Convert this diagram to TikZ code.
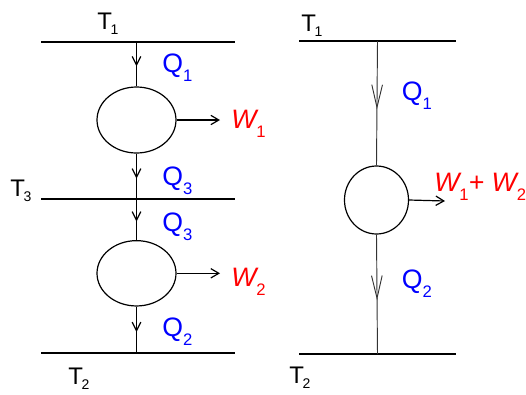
\documentclass[tikz,border=0pt]{standalone}
\usepackage{fontspec}
\setmainfont{Liberation Sans}
\usetikzlibrary{shapes.geometric,arrows.meta,decorations.markings}
\definecolor{heatblue}{HTML}{0000FF}
\definecolor{workred}{HTML}{FF0000}
\newcommand{\lowsub}[2][7pt]{\raisebox{-#1}{\fontsize{12.5}{14}\selectfont\upshape #2}}
\newcommand{\tsub}[1]{\kern-1pt\raisebox{-4pt}{\fontsize{10.5}{12}\selectfont #1}}

\tikzset{
  label txt/.style={font=\fontsize{18}{20}\selectfont,inner sep=0pt,anchor=base west},
  heat txt/.style={label txt,text=heatblue,font=\fontsize{20}{24}\selectfont},
  work txt/.style={label txt,text=workred,font=\fontsize{20}{24}\selectfont\itshape},
  reservoir/.style={line width=0.9pt},
  engine/.style={draw,ellipse,inner sep=0pt,line width=0.9pt},
  heat flow/.style={line width=0.9pt,postaction={decorate},
    decoration={markings,mark=at position 0.55 with {\arrow{Straight Barb[length=6.5pt,width=6.5pt]}}}},
  long flow/.style={line width=0.7pt,draw=black!80,postaction={decorate},
    decoration={markings,mark=at position 0.55 with {\arrow{Straight Barb[length=17pt,width=8pt]}}}},
  work flow/.style={line width=0.9pt,-{Straight Barb[length=6pt,width=7pt]}}
}

\begin{document}
\begin{tikzpicture}[x=0.75pt,y=-0.75pt]
\useasboundingbox (0,0) rectangle (526,394);

% left: two engines in series
\draw[reservoir] (41,42) -- (235,42);
\draw[reservoir] (41,199) -- (235,199);
\draw[reservoir] (41,353) -- (235,353);
\coordinate (lt1) at (136.5,42);
\coordinate (lt3) at (136.5,199);
\coordinate (lt2) at (136.5,353);
\node[label txt] (lT1) at (97,29) {T\tsub{1}};
\node[label txt] (lT3) at (10,196) {T\tsub{3}};
\node[label txt] (lT2) at (68,384) {T\tsub{2}};

\node[engine,minimum width=59.25pt,minimum height=49.5pt] (eng1) at (136.5,120) {};
\node[engine,minimum width=59.25pt,minimum height=49pt] (eng2) at (136.5,273.3) {};

\draw[heat flow] (lt1) -- (eng1.north);
\draw[heat flow] (eng1.south) -- (lt3);
\draw[heat flow] (lt3) -- (eng2.north);
\draw[heat flow] (eng2.south) -- (lt2);

\coordinate (w1end) at (220,120);
\coordinate (w2end) at (220,273.3);
\draw[work flow] (eng1.east) -- (w1end);
\draw[work flow] (eng2.east) -- (w2end);

\node[heat txt] (q1) at (162,72) {Q\lowsub{1}};
\node[heat txt] (q3a) at (162,185) {Q\lowsub{3}};
\node[heat txt] (q3b) at (162,231.5) {Q\lowsub{3}};
\node[heat txt] (q2) at (162,336.5) {Q\lowsub{2}};
\node[work txt] (w1) at (231,128) {W\lowsub{1}};
\node[work txt] (w2) at (231,286.5) {W\lowsub{2}};

% right: one equivalent engine
\draw[reservoir] (299,41) -- (456,41);
\draw[reservoir] (299,354) -- (456,354);
\coordinate (rt1) at (377.5,41);
\coordinate (rt2) at (377.5,354);
\node[label txt] (rT1) at (301,31) {T\tsub{1}};
\node[label txt] (rT2) at (289,383) {T\tsub{2}};

\node[engine,minimum width=48pt,minimum height=51pt] (eng) at (376.5,200) {};
\draw[long flow] (rt1) -- (eng.north);
\draw[long flow] (eng.south) -- (rt2);

\coordinate (wend) at (445,201);
\draw[work flow] (eng.east) -- (wend);

\node[heat txt] (rq1) at (401.5,100) {Q\lowsub{1}};
\node[heat txt] (rq2) at (401.5,288) {Q\lowsub{2}};
\node[work txt] (rw) at (434,191.5) {W\lowsub{1}+ W\lowsub{2}};
\end{tikzpicture}
\end{document}
